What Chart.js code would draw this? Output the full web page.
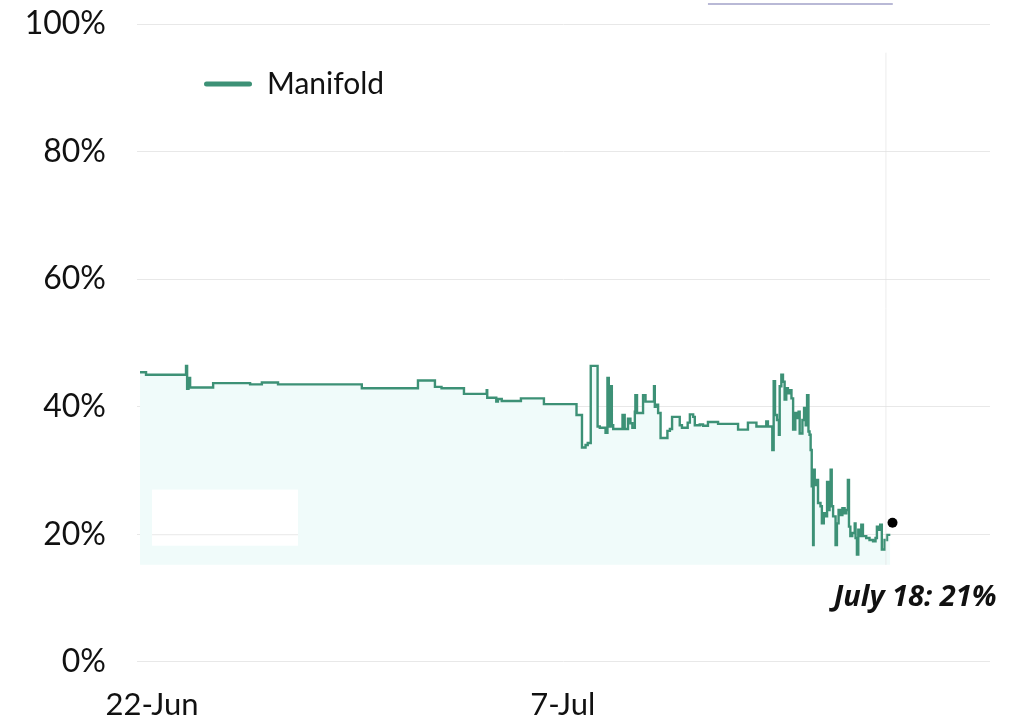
<!DOCTYPE html>
<html lang="en">
<head>
    <meta charset="UTF-8">
    <title>Manifold</title>
    <script src="https://cdn.jsdelivr.net/npm/chart.js"></script>
    <style>
        body {
            margin: 0;
            background-color: #ffffff;
        }
        .chart-box {
            width: 1022px;
            height: 719px;
        }
    </style>
</head>
<body>

<div class="chart-box">
    <canvas id="manifoldChart"></canvas>
</div>

<script>
    // Days counted from 22-Jun, and the Manifold share (%) from that moment on
    const manifoldDays = [
        -0.44, -0.22, 1.24, 1.28, 1.33, 1.39, 2.23, 3.58, 4.01, 4.60,
        7.66, 9.71, 10.33, 10.57, 11.39, 12.22, 12.24, 12.57, 12.63, 12.77,
        13.47, 14.31, 15.50, 15.70, 15.83, 15.91, 16.02, 16.27, 16.35, 16.56,
        16.63, 16.68, 16.75, 16.79, 16.84, 17.18, 17.26, 17.38, 17.47, 17.54,
        17.63, 17.65, 17.71, 17.93, 18.02, 18.33, 18.36, 18.39, 18.48, 18.57,
        18.82, 18.91, 18.99, 19.27, 19.35, 19.56, 19.64, 19.76, 19.82, 20.00,
        20.12, 20.30, 20.67, 21.40, 21.76, 22.07, 22.43, 22.49, 22.65, 22.70,
        22.75, 22.82, 22.89, 22.92, 22.98, 23.04, 23.10, 23.16, 23.22, 23.28,
        23.35, 23.41, 23.49, 23.55, 23.61, 23.65, 23.75, 23.81, 23.87, 23.92,
        23.97, 24.01, 24.05, 24.09, 24.14, 24.16, 24.20, 24.26, 24.32, 24.41,
        24.46, 24.53, 24.60, 24.65, 24.70, 24.74, 24.78, 24.82, 24.87, 24.96,
        25.01, 25.07, 25.14, 25.21, 25.29, 25.35, 25.41, 25.45, 25.50, 25.57,
        25.66, 25.69, 25.74, 25.79, 25.84, 25.90, 25.96, 26.08, 26.20, 26.33,
        26.42, 26.47, 26.53, 26.59, 26.65, 26.75, 26.84, 26.96
    ];
    const manifoldShare = [
        45.4, 45.0, 46.4, 42.8, 44.5, 43.0, 43.7, 43.5, 43.8, 43.5,
        42.9, 44.1, 43.1, 42.9, 42.0, 42.6, 41.4, 40.8, 41.2, 40.9,
        41.3, 40.4, 38.7, 33.6, 34.0, 34.3, 46.4, 36.9, 36.7, 35.9,
        44.5, 36.9, 43.2, 37.1, 36.5, 38.7, 36.5, 38.1, 37.4, 36.7,
        39.2, 41.8, 39.0, 41.8, 40.8, 43.2, 40.0, 40.3, 39.0, 35.1,
        36.2, 36.5, 38.4, 37.1, 36.7, 37.5, 38.8, 38.4, 37.1, 37.2,
        37.0, 37.6, 37.3, 36.4, 37.5, 36.9, 37.7, 36.9, 33.2, 44.0,
        38.7, 37.9, 35.6, 43.2, 45.0, 43.9, 41.1, 42.9, 42.1, 42.6,
        41.3, 36.4, 39.0, 38.2, 39.2, 35.8, 37.9, 39.8, 37.1, 41.8,
        36.1, 35.6, 33.2, 27.5, 18.3, 30.1, 27.7, 28.5, 24.9, 24.4,
        21.7, 23.3, 22.8, 28.2, 23.8, 25.9, 30.1, 24.4, 22.8, 18.3,
        21.7, 23.8, 23.0, 24.1, 23.3, 23.8, 28.5, 21.2, 19.7, 20.2,
        21.7, 19.4, 16.8, 20.7, 19.7, 21.5, 19.7, 19.4, 19.1, 18.9,
        19.4, 21.2, 20.7, 21.5, 17.6, 19.1, 19.9, 19.9
    ];

    // Latest reading callout
    const latestDay = [27.04];
    const latestShare = [21.8];
    const latestLabel = 'July 18: 21%';

    // X-axis tick positions (days from 22-Jun) and their labels
    const tickDays = [0, 15];
    const tickLabels = ['22-Jun', '7-Jul'];
    const fillBase = 15.2;

    const lineColor = '#3d9176';
    const fontFamily = 'Lato, "Open Sans", sans-serif';

    // Extra drawing: legend placement, the callout text and a few marks seen on the original
    const decorPlugin = {
        id: 'decor',
        afterLayout(chart) {
            const lg = chart.legend;
            const area = chart.chartArea;
            lg.left = area.left + 67;
            lg.right = lg.left + lg.width;
            lg.top = area.top + 45;
            lg.bottom = lg.top + lg.height;
        },
        afterDatasetsDraw(chart) {
            const { ctx, scales: { x, y } } = chart;
            // white patch over the shaded area, bottom left
            ctx.save();
            ctx.fillStyle = '#ffffff';
            ctx.fillRect(x.getPixelForValue(0), y.getPixelForValue(27),
                x.getPixelForValue(5.33) - x.getPixelForValue(0),
                y.getPixelForValue(18.2) - y.getPixelForValue(27));
            ctx.strokeStyle = '#e8e8e8';
            ctx.lineWidth = 1;
            ctx.beginPath();
            ctx.moveTo(x.getPixelForValue(0), y.getPixelForValue(20) + 0.5);
            ctx.lineTo(x.getPixelForValue(5.33), y.getPixelForValue(20) + 0.5);
            ctx.stroke();
            // faint hover line
            ctx.strokeStyle = 'rgba(225,225,225,0.6)';
            ctx.beginPath();
            ctx.moveTo(x.getPixelForValue(26.8), y.getPixelForValue(95.5));
            ctx.lineTo(x.getPixelForValue(26.8), y.getPixelForValue(fillBase));
            ctx.stroke();
            ctx.restore();
        },
        afterDraw(chart) {
            const { ctx, scales: { x, y } } = chart;
            ctx.save();
            // thin lavender bar at the top
            ctx.strokeStyle = '#b9b9d6';
            ctx.lineWidth = 2;
            ctx.beginPath();
            ctx.moveTo(x.getPixelForValue(20.3), 4);
            ctx.lineTo(x.getPixelForValue(27.05), 4);
            ctx.stroke();
            // callout text
            const px = x.getPixelForValue(latestDay[0]);
            const py = y.getPixelForValue(latestShare[0]);
            ctx.fillStyle = '#111111';
            ctx.font = 'italic bold 29px "Liberation Sans Narrow", "Open Sans", sans-serif';
            ctx.textAlign = 'right';
            ctx.textBaseline = 'middle';
            ctx.fillText(latestLabel, px + 104, py + 75);
            ctx.restore();
        }
    };

    const ctx = document.getElementById('manifoldChart').getContext('2d');
    new Chart(ctx, {
        type: 'line',
        data: {
            datasets: [
                {
                    label: 'Manifold',
                    data: manifoldDays.map((d, i) => ({ x: d, y: manifoldShare[i] })),
                    borderColor: lineColor,
                    backgroundColor: '#f0fbfa',
                    borderWidth: 2.4,
                    stepped: true,
                    pointRadius: 0,
                    fill: { value: fillBase }
                },
                {
                    label: 'latest',
                    data: latestDay.map((d, i) => ({ x: d, y: latestShare[i] })),
                    showLine: false,
                    pointRadius: 5,
                    pointBackgroundColor: '#000000',
                    pointBorderColor: '#000000',
                    borderWidth: 0
                }
            ]
        },
        options: {
            responsive: true,
            maintainAspectRatio: false,
            animation: false,
            layout: {
                padding: { left: 0, right: 32, top: 24, bottom: -30 }
            },
            plugins: {
                tooltip: { enabled: false },
                legend: {
                    position: 'chartArea',
                    align: 'start',
                    labels: {
                        generateLabels: chart => Chart.defaults.plugins.legend.labels
                            .generateLabels(chart)
                            .filter(item => item.datasetIndex === 0)
                            .map(item => ({ ...item, fillStyle: lineColor, lineWidth: 0 })),
                        boxWidth: 48,
                        boxHeight: 5,
                        useBorderRadius: true,
                        borderRadius: 2.5,
                        padding: 0,
                        color: '#111111',
                        font: { family: fontFamily, size: 30 }
                    }
                }
            },
            scales: {
                x: {
                    type: 'linear',
                    min: -0.55,
                    max: 30.6,
                    afterBuildTicks: axis => {
                        axis.ticks = tickDays.map(v => ({ value: v }));
                    },
                    ticks: {
                        autoSkip: false,
                        maxRotation: 0,
                        padding: 25,
                        color: '#111111',
                        font: { family: fontFamily, size: 31 },
                        callback: (value, index) => tickLabels[index]
                    },
                    grid: { display: false, drawTicks: false },
                    border: { display: false }
                },
                y: {
                    min: 0,
                    max: 100,
                    afterFit: scale => {
                        scale.width = 137;
                        scale.paddingTop = 0;
                        scale.paddingBottom = 0;
                    },
                    ticks: {
                        stepSize: 20,
                        padding: 31,
                        color: '#111111',
                        font: { family: fontFamily, size: 32 },
                        callback: value => value + '%'
                    },
                    grid: {
                        color: '#e8e8e8',
                        drawTicks: false
                    },
                    border: { display: false }
                }
            }
        },
        plugins: [decorPlugin]
    });
</script>

</body>
</html>
